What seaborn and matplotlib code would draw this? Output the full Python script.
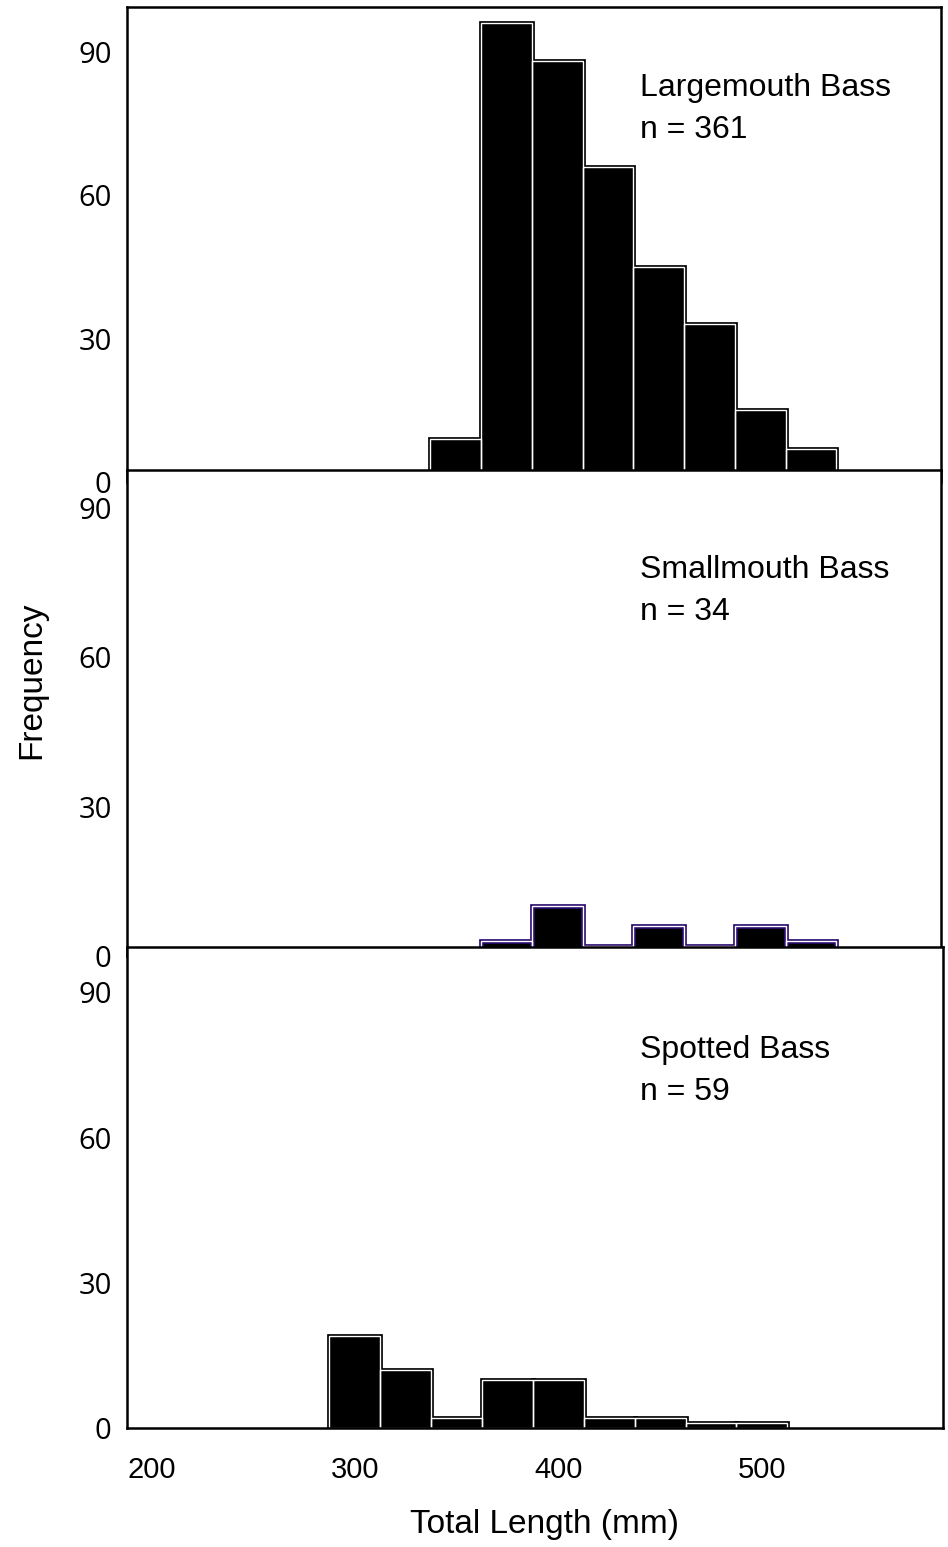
import numpy as np
import pandas as pd
import matplotlib.pyplot as plt
import seaborn as sns

# length-frequency data, 25 mm bins (bin centres in mm)
species = ["Largemouth Bass", "Smallmouth Bass", "Spotted Bass"]
sample_sizes = [361, 34, 59]

lmb_lengths = [350, 375, 400, 425, 450, 475, 500, 525, 550]
lmb_counts = [9, 96, 88, 66, 45, 33, 15, 7, 2]

smb_lengths = [250, 350, 375, 400, 425, 450, 475, 500, 525]
smb_counts = [1, 1, 3, 10, 2, 6, 2, 6, 3]

spb_lengths = [300, 325, 350, 375, 400, 425, 450, 475, 500]
spb_counts = [19, 12, 2, 10, 10, 2, 2, 1, 1]

y_ticks = [0, 30, 60, 90]
x_ticks = [200, 300, 400, 500]

W, H = 948, 1547
BIN = 25


def px_rect(left, top, right, bottom):
    """axes rect from pixel box (origin top-left)"""
    return [left / W, 1 - bottom / H, (right - left) / W, (bottom - top) / H]


def draw_hist(ax, lengths, counts, edge):
    df = pd.DataFrame({"length": lengths, "count": counts})
    bins = [float(b) for b in np.arange(min(lengths) - BIN / 2, max(lengths) + BIN, BIN)]
    # outer dark outline with black fill, then a thin white line on top
    sns.histplot(data=df, x="length", weights="count", bins=bins, ax=ax,
                 color="black", edgecolor=edge, linewidth=3.4, alpha=1)
    sns.histplot(data=df, x="length", weights="count", bins=bins, ax=ax,
                 fill=False, color="white", linewidth=1.0)


sns.set_style("white")
plt.rcParams["font.family"] = ["Liberation Sans", "DejaVu Sans"]
plt.rcParams["text.color"] = "black"
plt.rcParams["xtick.color"] = "black"
plt.rcParams["ytick.color"] = "black"

fig = plt.figure(figsize=(W / 100, H / 100), dpi=100)

panels = [
    # (data, pixel box, ymax, outline colour)
    ((lmb_lengths, lmb_counts), (127, 7, 941, 482), 99.4, "black"),
    ((smb_lengths, smb_counts), (127, 470, 941, 956), 97.6, "#2b0c6e"),
    ((spb_lengths, spb_counts), (127, 947, 943, 1428), 99.4, "black"),
]
text_y = [88, 570, 1050]

for i, ((lengths, counts), box, ymax, edge) in enumerate(panels):
    ax = fig.add_axes(px_rect(*box))
    ax.set_facecolor("white")
    draw_hist(ax, lengths, counts, edge)
    ax.set_xlim(188, 589)
    ax.set_ylim(0, ymax)
    ax.set_yticks(y_ticks)
    ax.set_yticklabels([str(t) for t in y_ticks], family="Open Sans")
    ax.tick_params(axis="y", length=0, pad=11, labelsize=21)
    ax.set_xlabel("")
    ax.set_ylabel("")
    for s in ax.spines.values():
        s.set_color("black")
        s.set_linewidth(1.8)
        s.set_visible(True)
    if i == 0:
        ax.spines["bottom"].set_visible(False)
    if i < 2:
        ax.set_xticks([])
    else:
        ax.set_xticks(x_ticks)
        ax.tick_params(axis="x", length=0, pad=20, labelsize=21)

    fig.text(640 / W, 1 - text_y[i] / H, species[i], fontsize=23,
             va="center", ha="left")
    fig.text(640 / W, 1 - (text_y[i] + 42) / H, f"n = {sample_sizes[i]}",
             fontsize=23, va="center", ha="left")

fig.text(545 / W, 1 - 1525 / H, "Total Length (mm)", fontsize=24,
         ha="center", va="center")
fig.text(32 / W, 1 - 680 / H, "Frequency", fontsize=24, rotation=90,
         ha="center", va="center")

fig.savefig("out.png", dpi=100)
